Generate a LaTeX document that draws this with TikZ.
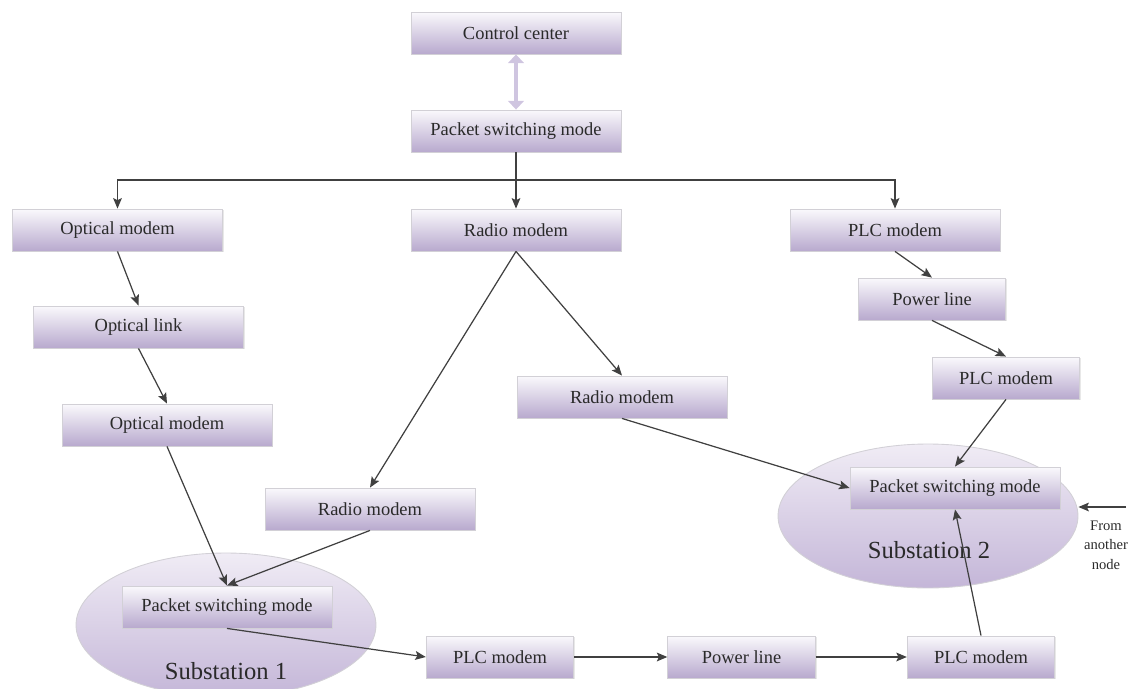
\documentclass[tikz,border=0pt]{standalone}
\usepackage{fontspec}
\setmainfont{Liberation Serif}
\usetikzlibrary{shapes.geometric,arrows.meta,shadows}
\definecolor{boxtop}{HTML}{FAF9FC}
\definecolor{boxbot}{HTML}{B8A9CE}
\definecolor{boxline}{HTML}{D2D0D6}
\definecolor{elltop}{HTML}{F0ECF5}
\definecolor{ellbot}{HTML}{C4B6D8}
\definecolor{arrcol}{HTML}{404040}
\definecolor{dblcol}{HTML}{CFC5E0}
\definecolor{txtcol}{HTML}{2A2A2A}
\tikzset{
  mbox/.style={draw=boxline, line width=0.5pt, top color=boxtop, bottom color=boxbot,
    minimum width=4.2cm, minimum height=0.84cm, inner sep=0pt,
    font=\fontsize{10.5}{12}\selectfont, text=txtcol,
    drop shadow={opacity=0.18, shadow xshift=0.8pt, shadow yshift=-0.8pt}},
  sbox/.style={mbox, minimum width=2.95cm},
  subst/.style={ellipse, draw=boxline, line width=0.5pt, top color=elltop, bottom color=ellbot,
    minimum width=6cm, minimum height=2.88cm, inner sep=0pt},
  arr/.style={draw=arrcol, line width=0.7pt, -{Stealth[length=6pt,width=5pt,inset=1.2pt]}},
  subtext/.style={font=\fontsize{14}{16}\selectfont, text=txtcol},
}
\begin{document}
\begin{tikzpicture}[x=0.02cm,y=-0.02cm]
\useasboundingbox (0,0) rectangle (1129,689);
% substations (background)
\node[subst] (e1) at (226,625) {};
\node[subst] (e2) at (928,516) {};
\node[subtext] (s1) at (226,671) {Substation 1};
\node[subtext] (s2) at (929,550) {Substation 2};
% boxes
\node[mbox] (cc) at (516,33) {Control center};
\node[mbox] (psm0) at (516,131) {Packet switching mode};
\node[mbox] (om1) at (117.5,230) {Optical modem};
\node[mbox] (rm1) at (516,230) {Radio modem};
\node[mbox] (plc1) at (895,230) {PLC modem};
\node[mbox] (ol) at (138.5,327) {Optical link};
\node[sbox] (pl1) at (932,299) {Power line};
\node[sbox] (plc2) at (1006,378) {PLC modem};
\node[mbox] (rm2) at (622,397) {Radio modem};
\node[mbox] (om2) at (167,425) {Optical modem};
\node[mbox] (rm3) at (370,509) {Radio modem};
\node[mbox] (psm2) at (955,488) {Packet switching mode};
\node[mbox] (psm1) at (227,607) {Packet switching mode};
\node[sbox] (plc3) at (500,657) {PLC modem};
\node[sbox] (pl2) at (741.5,657) {Power line};
\node[sbox] (plc4) at (981,657) {PLC modem};
\node[font=\fontsize{8.3}{11}\selectfont, text=txtcol, align=center] (fa) at (1106,545) {From\\another\\node};
% double arrow
\draw[draw=dblcol, line width=2.8pt, {Triangle[width=9pt,length=5pt]}-{Triangle[width=9pt,length=5pt]}] (cc.south) -- (psm0.north);
% tree
\coordinate (bus) at (516,180);
\draw[arr] (psm0.south) -- (rm1.north);
\draw[arr] (bus) -| (om1.north);
\draw[arr] (bus) -| (plc1.north);
% left chain
\draw[arr] (om1.south) -- (ol.north);
\draw[arr] (ol.south) -- (om2.north);
\draw[arr] (om2.south) -- (psm1.north);
% radio
\draw[arr] (rm1.south) -- (rm3.north);
\draw[arr] (rm1.south) -- (rm2.north);
\draw[arr] (rm3.south) -- (psm1.north);
\draw[arr] (rm2.south) -- (psm2.west);
% plc chain right
\draw[arr] (plc1.south) -- (pl1.north);
\draw[arr] (pl1.south) -- (plc2.north);
\draw[arr] (plc2.south) -- (psm2.north);
% bottom
\draw[arr] (psm1.south) -- (plc3.west);
\draw[arr] (plc3.east) -- (pl2.west);
\draw[arr] (pl2.east) -- (plc4.west);
\draw[arr] (plc4.north) -- (psm2.south);
% from another node
\coordinate (fromc) at (1126,507);
\draw[arr] (fromc) -- (fromc -| e2.east);
\end{tikzpicture}
\end{document}
